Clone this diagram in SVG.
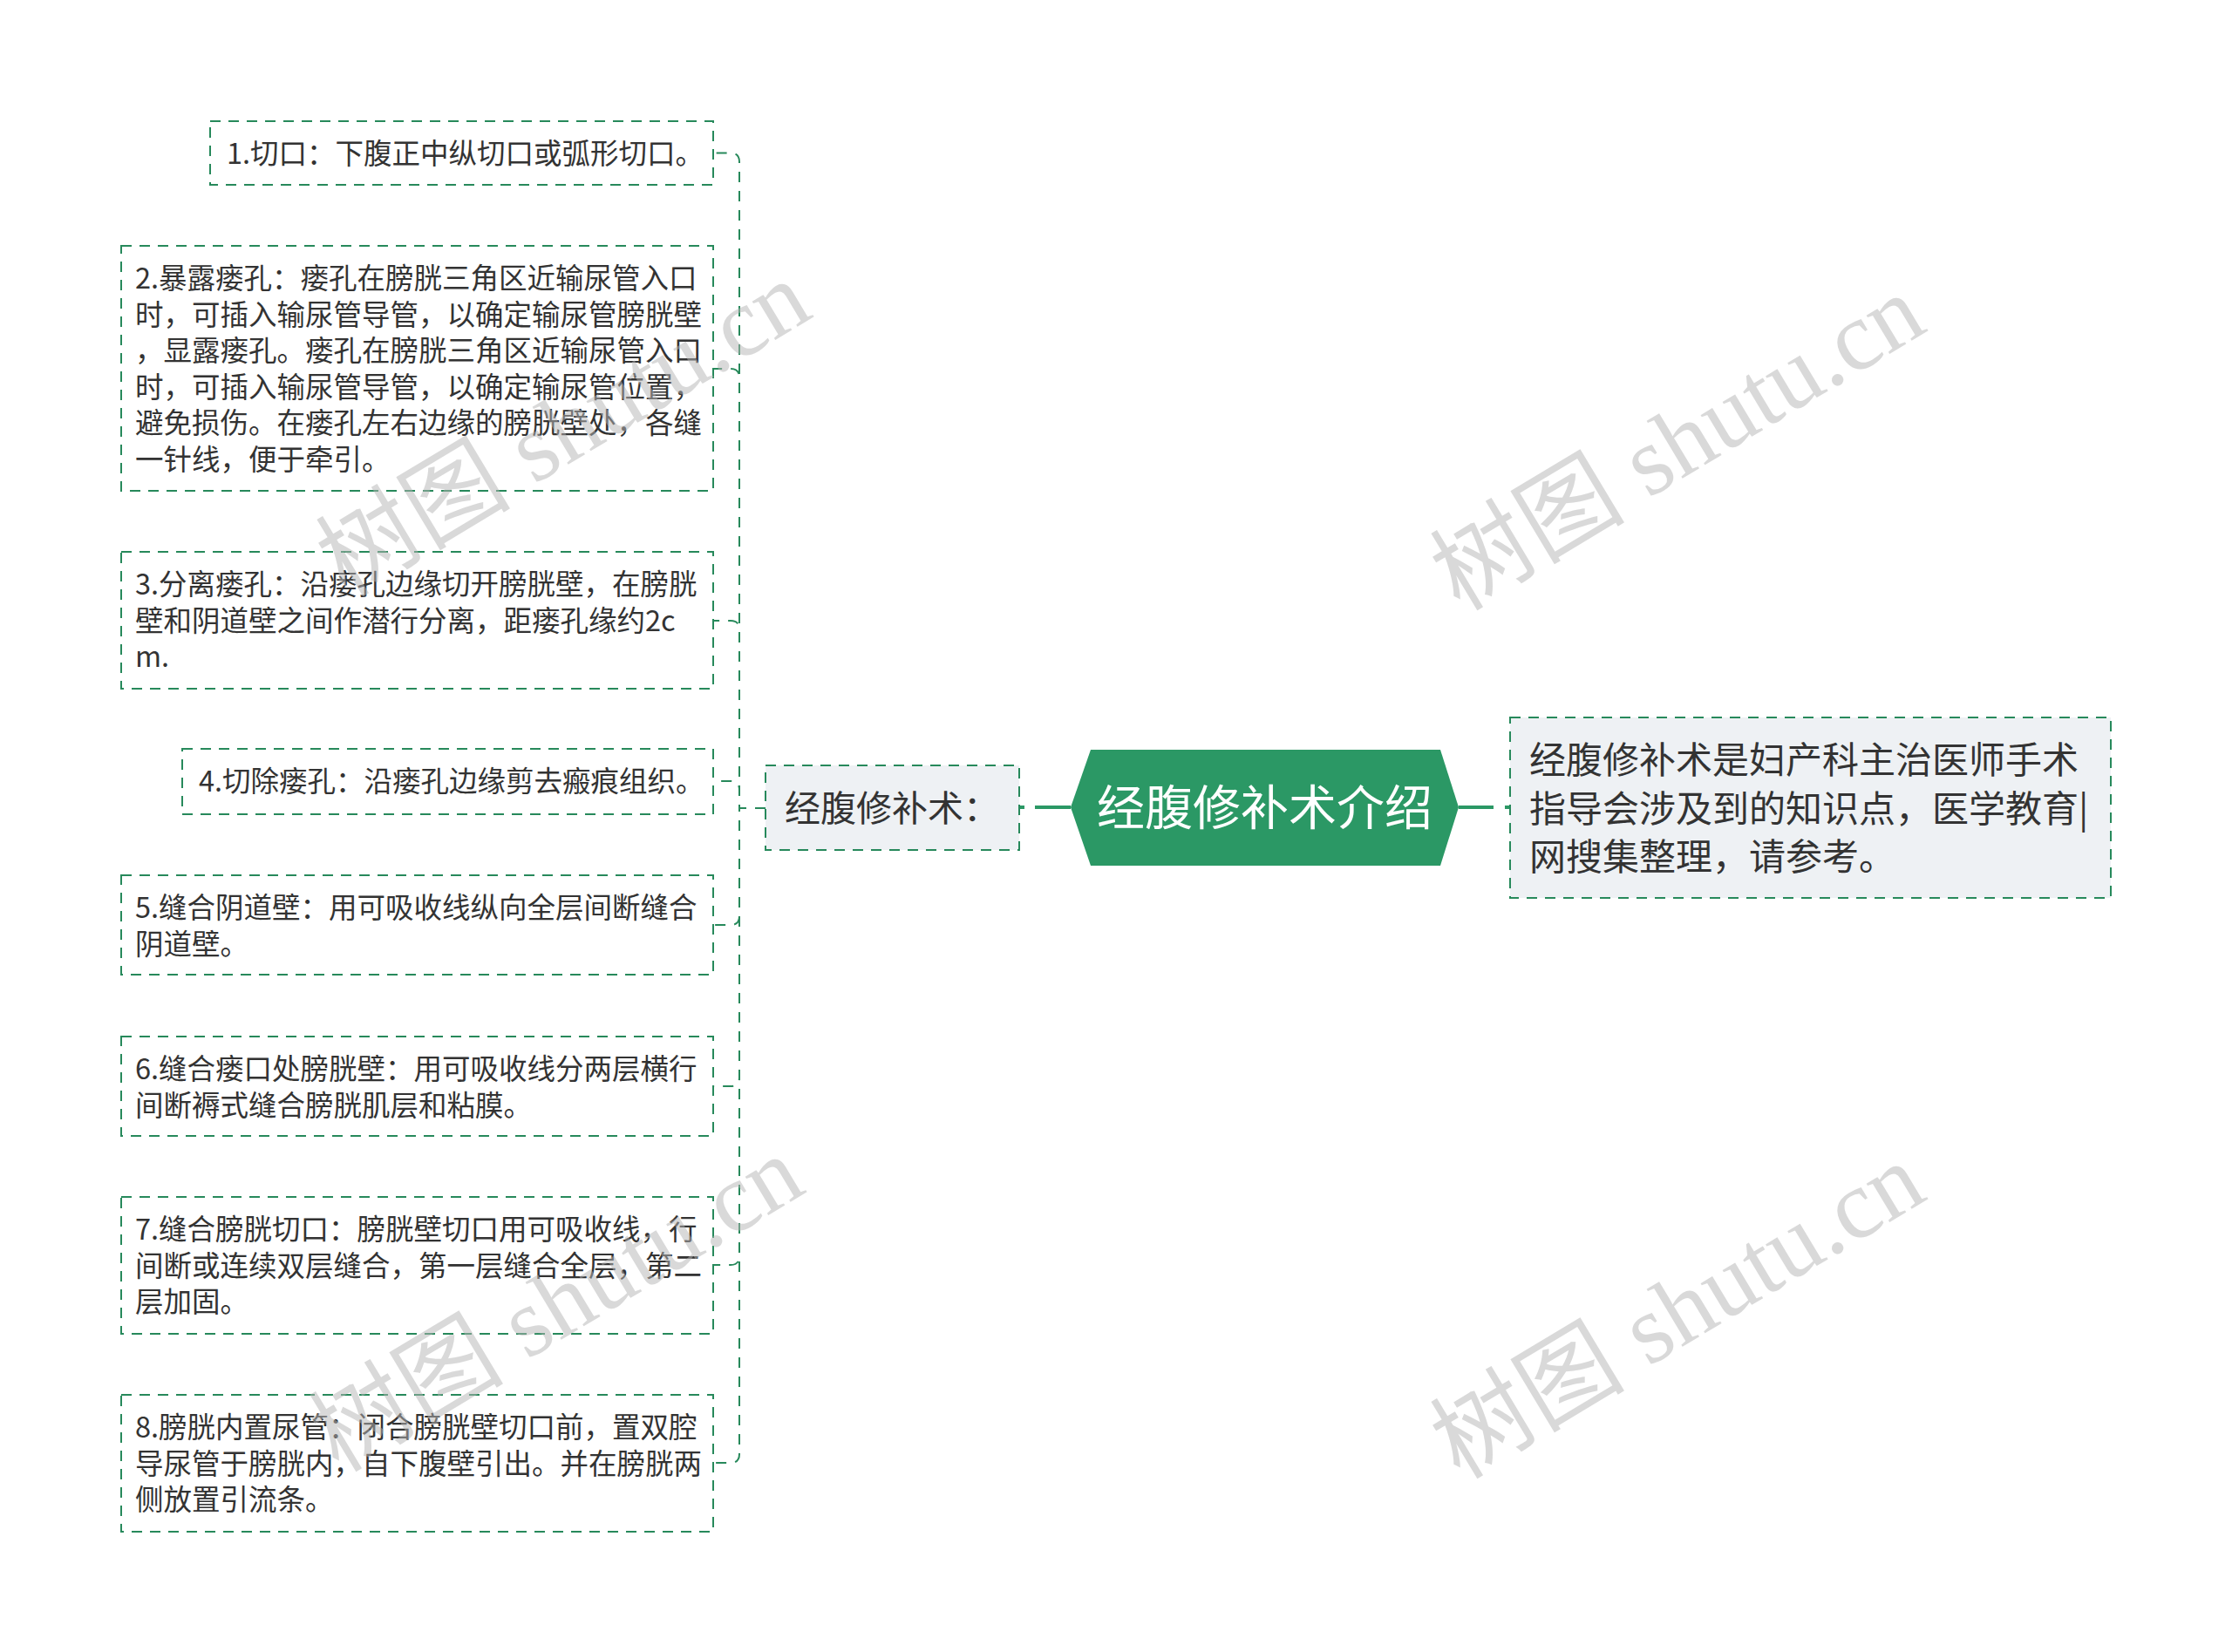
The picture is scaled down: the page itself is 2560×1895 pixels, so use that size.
<svg xmlns="http://www.w3.org/2000/svg" width="2560" height="1895" viewBox="0 0 2560 1895">
<style>
.bg{fill:#ffffff}
.box{fill:#ffffff;stroke:#27895b;stroke-width:2;stroke-dasharray:12 9}
.gbox{fill:#eef1f4;stroke:#27895b;stroke-width:2;stroke-dasharray:12 9}
.t{font-family:"Noto Sans CJK SC","Noto Sans",sans-serif;font-size:32.5px;fill:#333333}
.tl{font-family:"Noto Sans CJK SC","Noto Sans",sans-serif;fill:#333333}
.tc{font-family:"Noto Sans CJK SC","Noto Sans",sans-serif;font-size:55px;fill:#ffffff}
.con{fill:none;stroke:#27895b;stroke-width:2;stroke-dasharray:12 10}
.main{fill:none;stroke:#2b9865;stroke-width:4}
.wm{font-family:"Liberation Serif","Noto Sans CJK SC",serif;font-size:112px;fill:#b4b4b4;opacity:0.5}
</style>
<rect class="bg" x="0" y="0" width="2560" height="1895"/>

<g id="connectors">
<path class="con" d="M878 927 H848 V185.5 Q848 175.5 838 175.5 H818"/>
<path class="con" d="M878 927 H848 V433 Q848 423 838 423 H818"/>
<path class="con" d="M878 927 H848 V722 Q848 712 838 712 H818"/>
<path class="con" d="M878 927 H848 V906 Q848 896 838 896 H818"/>
<path class="con" d="M878 927 H848 V1051 Q848 1061 838 1061 H818"/>
<path class="con" d="M878 927 H848 V1236 Q848 1246 838 1246 H818"/>
<path class="con" d="M878 927 H848 V1441 Q848 1451 838 1451 H818"/>
<path class="con" d="M878 927 H848 V1668 Q848 1678 838 1678 H818"/>
<line class="main" x1="1228" y1="926" x2="1169" y2="926" stroke-dasharray="41 12 6 100"/>
<line class="main" x1="1673" y1="926" x2="1732" y2="926" stroke-dasharray="40 13 6 100"/>
</g>

<g id="center">
<polygon points="1228,926 1251,860 1652,860 1673,926 1652,993 1251,993" fill="#2b9865"/>
<text class="tc" x="1450.5" y="946" text-anchor="middle">经腹修补术介绍</text>
</g>

<g id="branch">
<rect class="gbox" x="878" y="878" width="291" height="97"/>
<text class="tl" x="900" y="942" font-size="41">经腹修补术：</text>
</g>

<g id="note">
<rect class="gbox" x="1732" y="823" width="689" height="207"/>
<text class="tl" font-size="42"><tspan x="1754" y="887">经腹修补术是妇产科主治医师手术</tspan><tspan x="1754" y="943">指导会涉及到的知识点，医学教育|</tspan><tspan x="1754" y="998">网搜集整理，请参考。</tspan></text>
</g>

<g id="step1">
<rect class="box" x="241" y="139" width="577" height="73"/>
<text class="t" x="260" y="188">1.切口：下腹正中纵切口或弧形切口。</text>
</g>

<g id="step2">
<rect class="box" x="139" y="282" width="679" height="281"/>
<text class="t"><tspan x="155" y="331">2.暴露瘘孔：瘘孔在膀胱三角区近输尿管入口</tspan><tspan x="155" y="372.5">时，可插入输尿管导管，以确定输尿管膀胱壁</tspan><tspan x="155" y="414">，显露瘘孔。瘘孔在膀胱三角区近输尿管入口</tspan><tspan x="155" y="455.5">时，可插入输尿管导管，以确定输尿管位置，</tspan><tspan x="155" y="497">避免损伤。在瘘孔左右边缘的膀胱壁处，各缝</tspan><tspan x="155" y="538.5">一针线，便于牵引。</tspan></text>
</g>

<g id="step3">
<rect class="box" x="139" y="633" width="679" height="157"/>
<text class="t"><tspan x="155" y="682">3.分离瘘孔：沿瘘孔边缘切开膀胱壁，在膀胱</tspan><tspan x="155" y="723.5">壁和阴道壁之间作潜行分离，距瘘孔缘约2c</tspan><tspan x="155" y="765">m.</tspan></text>
</g>

<g id="step4">
<rect class="box" x="209" y="859" width="609" height="75"/>
<text class="t" x="228" y="908">4.切除瘘孔：沿瘘孔边缘剪去瘢痕组织。</text>
</g>

<g id="step5">
<rect class="box" x="139" y="1004" width="679" height="114"/>
<text class="t"><tspan x="155" y="1053">5.缝合阴道壁：用可吸收线纵向全层间断缝合</tspan><tspan x="155" y="1094.5">阴道壁。</tspan></text>
</g>

<g id="step6">
<rect class="box" x="139" y="1189" width="679" height="114"/>
<text class="t"><tspan x="155" y="1238">6.缝合瘘口处膀胱壁：用可吸收线分两层横行</tspan><tspan x="155" y="1279.5">间断褥式缝合膀胱肌层和粘膜。</tspan></text>
</g>

<g id="step7">
<rect class="box" x="139" y="1373" width="679" height="157"/>
<text class="t"><tspan x="155" y="1422">7.缝合膀胱切口：膀胱壁切口用可吸收线，行</tspan><tspan x="155" y="1463.5">间断或连续双层缝合，第一层缝合全层，第二</tspan><tspan x="155" y="1505">层加固。</tspan></text>
</g>

<g id="step8">
<rect class="box" x="139" y="1600" width="679" height="157"/>
<text class="t"><tspan x="155" y="1649">8.膀胱内置尿管：闭合膀胱壁切口前，置双腔</tspan><tspan x="155" y="1690.5">导尿管于膀胱内，自下腹壁引出。并在膀胱两</tspan><tspan x="155" y="1732">侧放置引流条。</tspan></text>
</g>

<g id="watermarks">
<text class="wm" x="645" y="530" text-anchor="middle" transform="rotate(-31 645 490)">树图 shutu.cn</text>
<text class="wm" x="1923" y="546" text-anchor="middle" transform="rotate(-31 1923 506)">树图 shutu.cn</text>
<text class="wm" x="637" y="1534" text-anchor="middle" transform="rotate(-31 637 1494)">树图 shutu.cn</text>
<text class="wm" x="1923" y="1542" text-anchor="middle" transform="rotate(-31 1923 1502)">树图 shutu.cn</text>
</g>
</svg>
